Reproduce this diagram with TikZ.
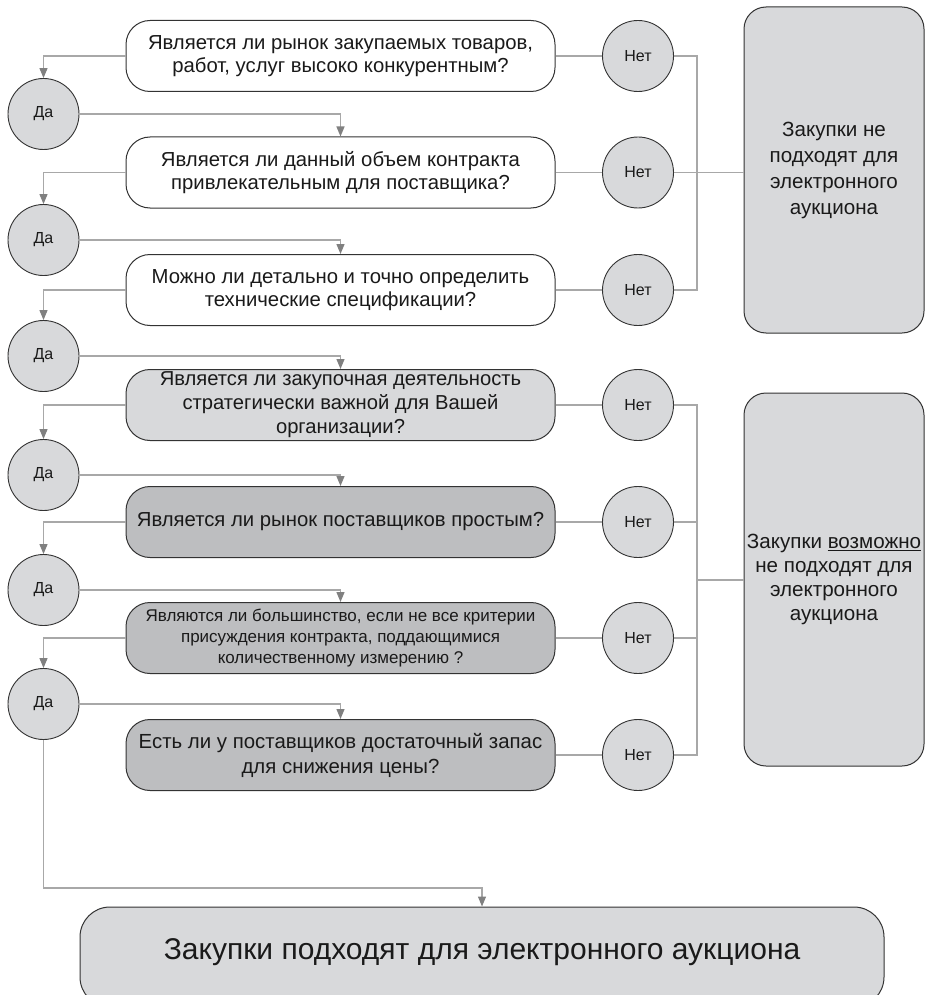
\documentclass[tikz,border=0pt]{standalone}
\usepackage{fontspec}
\setmainfont{Liberation Sans}
\usetikzlibrary{arrows.meta}
\definecolor{linegray}{HTML}{A8A8A8}
\definecolor{arrowgray}{HTML}{808080}
\definecolor{lfill}{HTML}{D8D9DB}
\definecolor{dfill}{HTML}{BDBEC0}
\definecolor{edge}{HTML}{333333}
\definecolor{txt}{HTML}{1A1A1A}
\begin{document}
\begin{tikzpicture}[x=1pt,y=-1pt,
  qbox/.style={draw=edge, line width=1pt, rounded corners=24pt, minimum width=429pt,
    minimum height=71pt, align=center, inner sep=0pt, text=txt,
    font=\fontsize{20.3}{23}\selectfont},
  yesno/.style={circle, draw=edge, line width=0.9pt, fill=lfill, minimum size=71pt,
    inner sep=0pt, text=txt, font=\fontsize{16}{18}\selectfont},
  bigbox/.style={draw=edge, line width=1pt, rounded corners=22pt, fill=lfill,
    minimum width=180pt, align=center, inner sep=0pt, text=txt},
  conn/.style={draw=linegray, line width=1.3pt},
  arr/.style={conn, -{Triangle[length=10pt,width=8pt,color=arrowgray,fill=arrowgray]}},
]
\useasboundingbox (0,0) rectangle (926,995);

% question boxes
\node[qbox, fill=white] (q1) at (340.5,56) {Является ли рынок закупаемых товаров,\\работ, услуг высоко конкурентным?};
\node[qbox, fill=white] (q2) at (340.5,172.5) {Является ли данный объем контракта\\привлекательным для поставщика?};
\node[qbox, fill=white] (q3) at (340.5,290) {Можно ли детально и точно определить\\технические спецификации?};
\node[qbox, fill=lfill, font=\fontsize{20.2}{24}\selectfont] (q4) at (340.5,405) {Является ли закупочная деятельность\\стратегически важной для Вашей\\организации?};
\node[qbox, fill=dfill] (q5) at (340.5,522) {Является ли рынок поставщиков простым?};
\node[qbox, fill=dfill, font=\fontsize{17}{21}\selectfont] (q6) at (340.5,638) {Являются ли большинство, если не все критерии\\присуждения контракта, поддающимися\\количественному измерению ?};
\node[qbox, fill=dfill, font=\fontsize{20.4}{25}\selectfont] (q7) at (340.5,755) {Есть ли у поставщиков достаточный запас\\для снижения цены?};

% yes circles
\node[yesno] (y1) at (43.5,114) {Да};
\node[yesno] (y2) at (43.5,240) {Да};
\node[yesno] (y3) at (43.5,356) {Да};
\node[yesno] (y4) at (43.5,475) {Да};
\node[yesno] (y5) at (43.5,590) {Да};
\node[yesno] (y6) at (43.5,704) {Да};

% no circles
\node[yesno] (n1) at (638,56) {Нет};
\node[yesno] (n2) at (638,172.5) {Нет};
\node[yesno] (n3) at (638,290) {Нет};
\node[yesno] (n4) at (638,405) {Нет};
\node[yesno] (n5) at (638,522) {Нет};
\node[yesno] (n6) at (638,638) {Нет};
\node[yesno] (n7) at (638,755) {Нет};

% result boxes
\node[bigbox, minimum height=326pt, font=\fontsize{20.6}{26}\selectfont] (r1) at (834,170) {Закупки не\\подходят для\\электронного\\аукциона};
\node[bigbox, minimum height=373pt, font=\fontsize{20.6}{24}\selectfont] (r2) at (834,579.5) {Закупки \underline{возможно}\\не подходят для\\электронного\\аукциона};
\node[draw=edge, line width=1pt, rounded corners=30pt, fill=lfill, minimum width=804pt,
  minimum height=100pt, inner sep=0pt] (fin) at (482,957) {};
\node[text=txt, font=\fontsize{30}{34}\selectfont, inner sep=0pt] (fint) at (482,952) {Закупки подходят для электронного аукциона};

% yes chain
\draw[arr] (q1.west) -| (y1.north);
\draw[arr] (y1.east) -| (q2.north);
\draw[arr] (q2.west) -| (y2.north);
\draw[arr] (y2.east) -| (q3.north);
\draw[arr] (q3.west) -| (y3.north);
\draw[arr] (y3.east) -| (q4.north);
\draw[arr] (q4.west) -| (y4.north);
\draw[arr] (y4.east) -| (q5.north);
\draw[arr] (q5.west) -| (y5.north);
\draw[arr] (y5.east) -| (q6.north);
\draw[arr] (q6.west) -| (y6.north);
\draw[arr] (y6.east) -| (q7.north);
\coordinate (turn) at (43.5,888);
\draw[arr] (y6.south) -- (turn) -| (fin.north);

% no links
\draw[conn] (q1.east) -- (n1.west);
\draw[conn] (q2.east) -- (n2.west);
\draw[conn] (q3.east) -- (n3.west);
\draw[conn] (q4.east) -- (n4.west);
\draw[conn] (q5.east) -- (n5.west);
\draw[conn] (q6.east) -- (n6.west);
\draw[conn] (q7.east) -- (n7.west);

\coordinate (j1) at (697,172.5);
\draw[conn] (n1.east) -| (j1);
\draw[conn] (n3.east) -| (j1);
\draw[conn] (n2.east) -- (j1) -- (j1 -| r1.west);

\coordinate (j2) at (697,580);
\draw[conn] (n4.east) -| (j2);
\draw[conn] (n7.east) -| (j2);
\draw[conn] (n5.east) -| (j2);
\draw[conn] (n6.east) -| (j2);
\draw[conn] (j2) -- (j2 -| r2.west);
\end{tikzpicture}
\end{document}
